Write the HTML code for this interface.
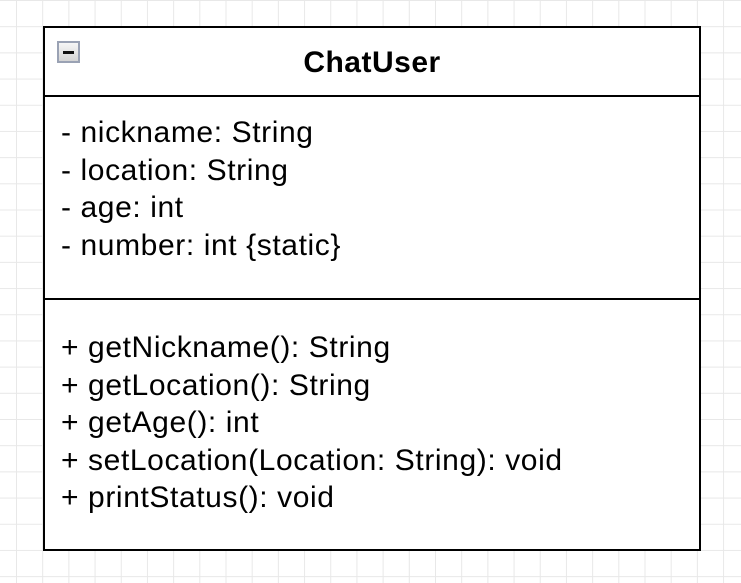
<!DOCTYPE html>
<html><head><style>
body{margin:0;width:741px;height:583px;overflow:hidden;background:#fff;
background-image:linear-gradient(to right,#e8e8e8 1px,transparent 1px),linear-gradient(to bottom,#e8e8e8 1px,transparent 1px);
background-size:26.2px 26.2px;background-position:16px 0px;font-family:"Liberation Sans",sans-serif;}
.box{position:absolute;left:43px;top:26px;width:654px;height:521px;border:2.5px solid #000;background:#fff;}
.hd{position:absolute;left:0;top:0;width:654px;height:67px;border-bottom:2.5px solid #000;}
.t{position:absolute;left:0;width:100%;top:18px;text-align:center;font-weight:bold;font-size:30px;letter-spacing:0.5px;}
.ic{position:absolute;left:12px;top:13px;border:2px solid #9aa2b4;background:linear-gradient(#f6f6f6,#d4d4d4);box-sizing:border-box;width:23px;height:22px;}
.ic:after{content:"";position:absolute;left:4px;top:8px;width:11px;height:3px;background:#111;}
.f{position:absolute;left:16px;font-size:30px;line-height:37.5px;letter-spacing:0.6px;white-space:nowrap;}
.d2{position:absolute;left:0;top:270px;width:654px;border-top:2.5px solid #000;}
</style></head><body>
<div class="box">
<div class="hd"><div class="ic"></div><div class="t">ChatUser</div></div>
<div class="f" style="top:86px">- nickname: String<br>- location: String<br>- age: int<br>- number: int {static}</div>
<div class="d2"></div>
<div class="f" style="top:301px">+ getNickname(): String<br>+ getLocation(): String<br>+ getAge(): int<br>+ setLocation(Location: String): void<br>+ printStatus(): void</div>
</div>
</body></html>
